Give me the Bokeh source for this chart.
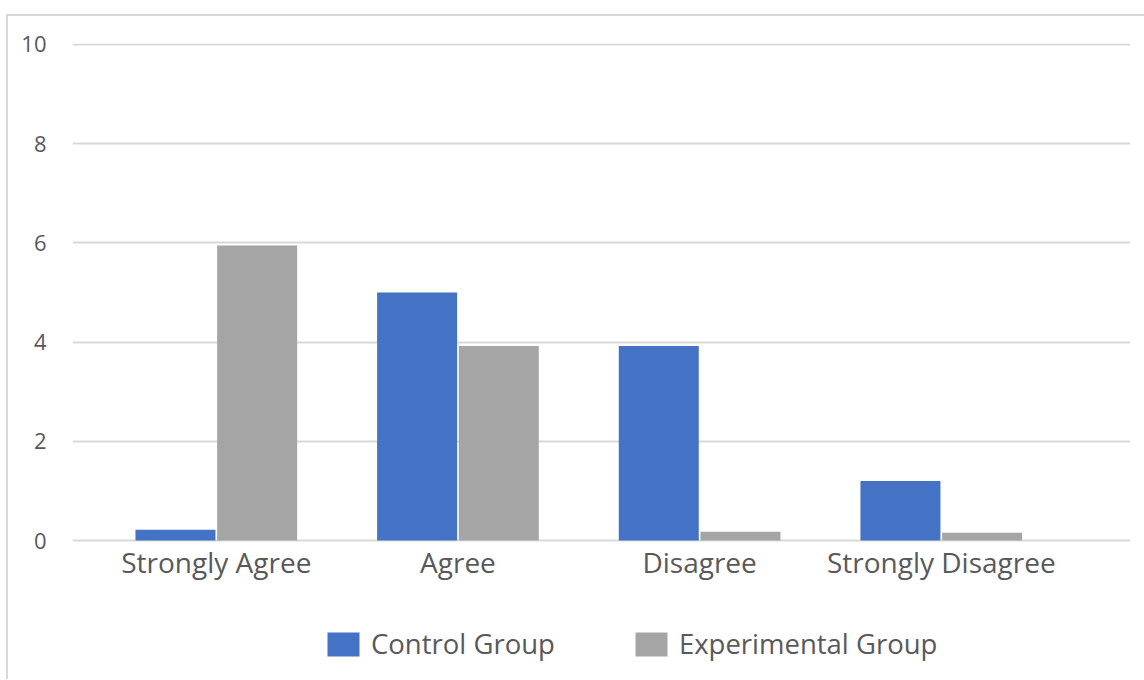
from bokeh.plotting import figure
from bokeh.models import ColumnDataSource, Range1d, FixedTicker, Legend, LegendItem
from bokeh.transform import dodge
from bokeh.embed import file_html
from bokeh.resources import INLINE

categories = ["Strongly Agree", "Agree", "Disagree", "Strongly Disagree"]
control_group = [0.22, 5.0, 3.92, 1.2]
experimental_group = [5.95, 3.92, 0.18, 0.16]
y_ticks = [0, 2, 4, 6, 8, 10]

FONT = "Open Sans"
TXT = "#595959"

src = ColumnDataSource(dict(
    idx=list(range(len(categories))),
    cat=categories,
    control=control_group,
    experimental=experimental_group,
))

p = figure(output_backend="svg", toolbar_location=None,
           x_range=Range1d(-0.595, 3.783), y_range=Range1d(-2.8, 10.02),
           frame_width=1058, frame_height=636,
           min_border_left=64, min_border_right=14, min_border_top=27, min_border_bottom=0)
p.margin = (14, 0, 0, 6)
p.styles = {"border-left": "2px solid #D9D9D9", "border-top": "2px solid #D9D9D9"}
p.outline_line_color = None
p.background_fill_color = "white"
p.border_fill_color = "white"

r1 = p.vbar(x=dodge("idx", -0.169, range=p.x_range), top="control", width=0.331, bottom=0,
            source=src, fill_color="#4472C4", line_color=None)
r2 = p.vbar(x=dodge("idx", 0.169, range=p.x_range), top="experimental", width=0.331, bottom=0,
            source=src, fill_color="#A5A5A5", line_color=None)

p.xaxis.fixed_location = 0
p.xaxis.ticker = FixedTicker(ticks=list(range(len(categories))))
p.xaxis.major_label_overrides = {i: c for i, c in enumerate(categories)}
p.xaxis.axis_line_color = None
p.xaxis.major_tick_line_color = None
p.xaxis.minor_tick_line_color = None
p.xaxis.major_label_text_font = FONT
p.xaxis.major_label_text_font_size = "28px"
p.xaxis.major_label_text_color = TXT
p.xaxis.major_label_standoff = -4
p.xgrid.grid_line_color = None

p.yaxis.ticker = FixedTicker(ticks=y_ticks)
p.yaxis.axis_line_color = None
p.yaxis.major_tick_line_color = None
p.yaxis.minor_tick_line_color = None
p.yaxis.major_label_text_font = FONT
p.yaxis.major_label_text_font_size = "22px"
p.yaxis.major_label_text_color = TXT
p.yaxis.major_label_standoff = 20
p.ygrid.grid_line_color = "#D9D9D9"
p.ygrid.grid_line_width = 2

legend = Legend(items=[LegendItem(label="Control Group", renderers=[r1]),
                       LegendItem(label="Experimental Group", renderers=[r2])],
                orientation="horizontal", location=(251, 17))
legend.label_text_font = FONT
legend.label_text_font_size = "27.5px"
legend.label_text_color = TXT
legend.glyph_width = 40
legend.glyph_height = 30
legend.spacing = 76
legend.label_standoff = 8
legend.border_line_color = None
legend.background_fill_alpha = 0
legend.margin = 0
legend.padding = 0
p.add_layout(legend, "center")

open("out.html", "w").write(file_html(p, INLINE))
